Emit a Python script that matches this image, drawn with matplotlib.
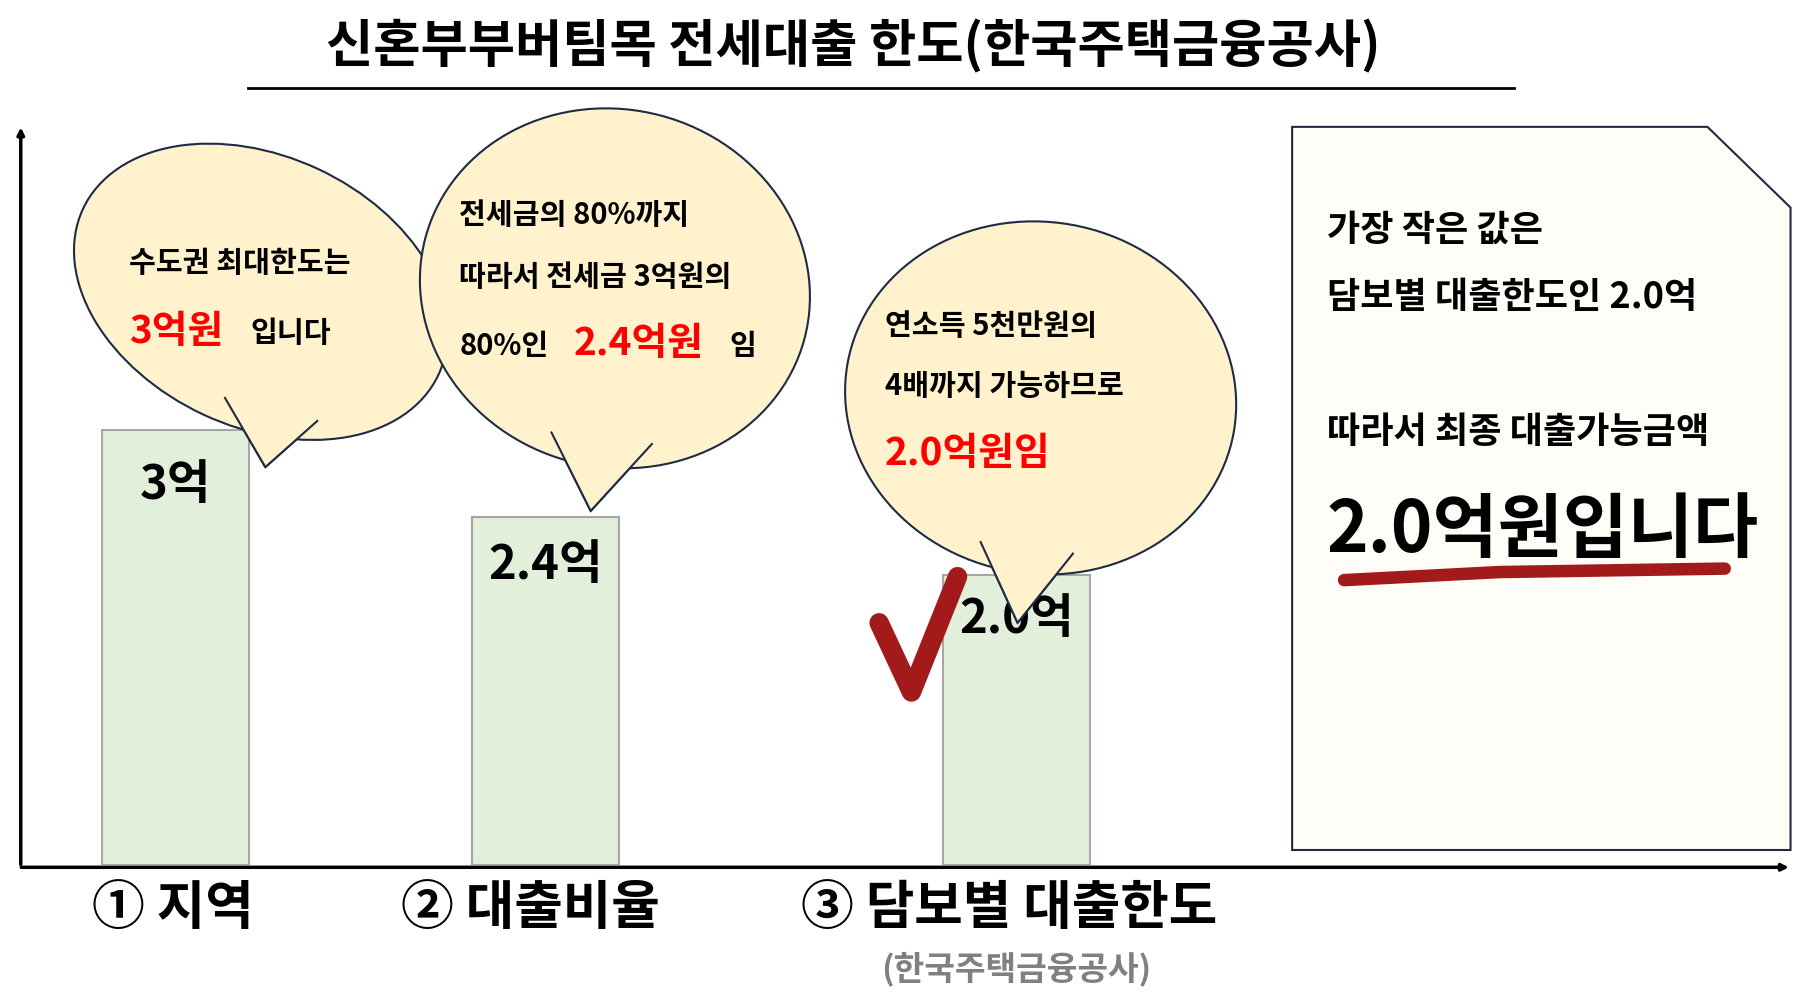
import matplotlib
matplotlib.use("Agg")
import matplotlib.pyplot as plt
from matplotlib.patches import Ellipse, Polygon
import numpy as np

plt.rcParams['font.family'] = ['Noto Sans CJK KR', 'DejaVu Sans']

categories = ["① 지역", "② 대출비율", "③ 담보별 대출한도"]
values = [3.0, 2.4, 2.0]
bar_labels = ["3억", "2.4억", "2.0억"]
title = "신혼부부버팀목 전세대출 한도(한국주택금융공사)"

W, H = 1568, 874
fig = plt.figure(figsize=(18.09, 10.08), dpi=100)
x0, x1, ytop, ybase = 18, 1550, 110, 750
bx = fig.add_axes([x0/W, (H-ybase)/H, (x1-x0)/W, (ybase-ytop)/H])
bx.set_zorder(0)
bx.set_xlim(x0, x1); bx.set_ylim(0, 3*(ybase-ytop)/(ybase-373))
bx.axis('off')
centers = [152, 473, 881]
bx.bar(centers, values, width=127, color='#e2efda', edgecolor='#a6a6a6', linewidth=1.5, zorder=2)
for c, v, l in zip(centers, values, bar_labels):
    bx.text(c, v*0.93, l, ha='center', va='top', fontsize=34, fontweight='bold')

ov = fig.add_axes([0, 0, 1, 1]); ov.set_zorder(1); ov.patch.set_alpha(0)
ov.set_xlim(0, W); ov.set_ylim(H, 0); ov.axis('off')

ov.annotate('', xy=(18, 108), xytext=(18, 752), arrowprops=dict(arrowstyle='-|>', color='black', lw=2.5))
ov.annotate('', xy=(1553, 752), xytext=(16, 752), arrowprops=dict(arrowstyle='-|>', color='black', lw=2.5))

ov.text(740, 40, title, ha='center', va='center', fontsize=37, fontweight='bold')
ov.plot([215, 1312], [76, 76], color='black', lw=2)

for c, cat in zip([150, 460, 875], categories):
    ov.text(c, 788, cat, ha='center', va='center', fontsize=38, fontweight='bold')
ov.text(881, 840, "(한국주택금융공사)", ha='center', va='center', fontsize=24, fontweight='bold', color='#808080')

bub = '#fff2cc'
def bubble(cx, cy, w, h, ang, tail):
    ov.add_patch(Polygon(tail, closed=True, facecolor=bub, edgecolor='#1f2a44', lw=1.5, zorder=3))
    ov.add_patch(Ellipse((cx, cy), w, h, angle=ang, facecolor=bub, edgecolor='#1f2a44', lw=1.5, zorder=4))
    t = np.array(tail)
    ov.add_patch(Polygon(t, closed=True, facecolor=bub, edgecolor='none', zorder=5))
    ov.plot(t[:, 0], t[:, 1], color='#1f2a44', lw=1.5, zorder=6)

bubble(226, 253, 340, 235, 25, [(195, 345), (230, 405), (275, 365)])
bubble(533, 250, 340, 310, 15, [(478, 375), (512, 443), (565, 385)])
bubble(902, 345, 340, 305, 10, [(850, 470), (882, 540), (930, 480)])

kw = dict(fontsize=21, fontweight='bold', zorder=7, va='center')
red = dict(fontsize=28, fontweight='bold', color='#ff0000', zorder=7, va='center')
ov.text(112, 228, "수도권 최대한도는", **kw)
ov.text(112, 287, "3억원", **red); ov.text(217, 289, "입니다", **kw)
ov.text(398, 186, "전세금의 80%까지", **kw)
ov.text(398, 240, "따라서 전세금 3억원의", **kw)
ov.text(398, 300, "80%인", **kw); ov.text(497, 298, "2.4억원", **red); ov.text(632, 300, "임", **kw)
ov.text(767, 283, "연소득 5천만원의", **kw)
ov.text(767, 335, "4배까지 가능하므로", **kw)
ov.text(767, 393, "2.0억원임", **red)

ov.plot([762, 790, 830], [540, 600, 500], color='#a31a1a', lw=14, solid_capstyle='round', solid_joinstyle='round', zorder=3)

ov.add_patch(Polygon([(1120, 110), (1480, 110), (1552, 180), (1552, 737), (1120, 737)], closed=True,
                     facecolor='#fffdf7', edgecolor='#1f2a44', lw=1.5))
nk = dict(fontsize=26, fontweight='bold', va='center')
ov.text(1150, 200, "가장 작은 값은", **nk)
ov.text(1150, 258, "담보별 대출한도인 2.0억", **nk)
ov.text(1150, 375, "따라서 최종 대출가능금액", **nk)
ov.plot([1165, 1300, 1495], [503, 496, 493], color='#a31a1a', lw=9, solid_capstyle='round', zorder=2)
ov.text(1150, 460, "2.0억원입니다", fontsize=51, fontweight='bold', va='center', zorder=3)

fig.savefig("out.png", dpi=100)
